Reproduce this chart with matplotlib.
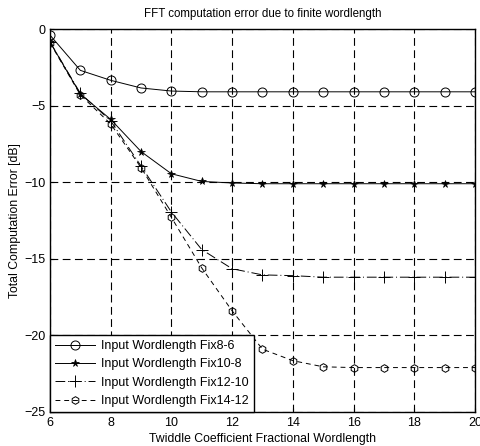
import matplotlib
matplotlib.use("Agg")
import matplotlib.pyplot as plt
import numpy as np

plt.rcParams['font.family'] = ['Liberation Sans', 'DejaVu Sans']

# Twiddle coefficient fractional wordlength
x = [6, 7, 8, 9, 10, 11, 12, 13, 14, 15, 16, 17, 18, 19, 20]

fix8_6 = [-0.4, -2.7, -3.35, -3.85, -4.05, -4.1, -4.1, -4.1, -4.1, -4.1, -4.1, -4.1, -4.1, -4.1, -4.1]
fix10_8 = [-0.85, -4.25, -5.9, -8.0, -9.45, -9.95, -10.05, -10.1, -10.1, -10.1, -10.1, -10.1, -10.1, -10.1, -10.1]
fix12_10 = [-0.85, -4.2, -6.0, -8.95, -11.95, -14.4, -15.65, -16.05, -16.1, -16.2, -16.2, -16.2, -16.2, -16.2, -16.2]
fix14_12 = [-0.9, -4.3, -6.2, -9.05, -12.3, -15.6, -18.4, -20.9, -21.65, -22.05, -22.1, -22.1, -22.1, -22.1, -22.1]

labels = ['Input Wordlength Fix8-6', 'Input Wordlength Fix10-8',
          'Input Wordlength Fix12-10', 'Input Wordlength Fix14-12']

fig = plt.figure(figsize=(4.8, 4.46), dpi=100)
ax = fig.add_axes([50/480, 1 - 412/446, 425/480, 383/446])

ax.plot(x, fix8_6, color='k', lw=0.7, ls='-', marker='o', ms=6.5, mfc='none', mec='k', mew=0.7, label=labels[0])
ax.plot(x, fix10_8, color='k', lw=0.7, ls='-', marker='*', ms=5.5, mfc='k', mec='k', mew=0.5, label=labels[1])
ax.plot(x, fix12_10, color='k', lw=0.7, ls=(0, (10, 3, 1, 3)), marker='+', ms=8, mec='k', mew=0.7, label=labels[2])
ax.plot(x, fix14_12, color='k', lw=0.7, ls=(0, (5, 4)), marker='h', ms=5.5, mfc='none', mec='k', mew=0.7, label=labels[3])

ax.set_xlim(6, 20)
ax.set_ylim(-25, 0)
ax.set_xticks(np.arange(6, 21, 2))
ax.set_yticks(np.arange(-25, 1, 5))
ax.grid(True, color='k', ls=(0, (7, 4)), lw=0.8)
ax.tick_params(direction='in', labelsize=9, length=3)
for s in ax.spines.values():
    s.set_linewidth(1.0)

ax.set_title('FFT computation error due to finite wordlength', fontsize=8.3, pad=9)
ax.set_xlabel('Twiddle Coefficient Fractional Wordlength', fontsize=8.8, labelpad=3)
ax.set_ylabel('Total Computation Error [dB]', fontsize=8.8, labelpad=2)

leg = ax.legend(loc='lower left', fontsize=9, frameon=True, fancybox=False,
                edgecolor='k', borderaxespad=0, handlelength=3.2,
                labelspacing=0.5, borderpad=0.4, handletextpad=0.5)
leg.get_frame().set_linewidth(1.0)
leg.get_frame().set_alpha(1)

fig.savefig('out.png', dpi=100)
